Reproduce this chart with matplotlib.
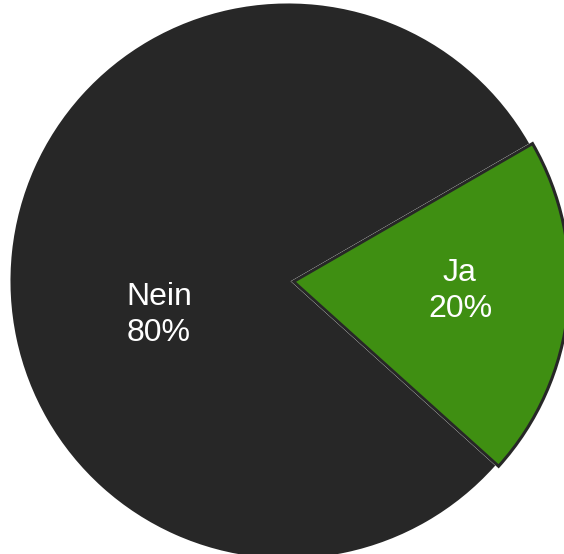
import matplotlib
matplotlib.use("Agg")
import matplotlib.pyplot as plt

# Survey answer shares
labels = ["Ja", "Nein"]
shares = [20, 80]
colors = ["#3f8f12", "#272727"]
explode = [0.02, 0.0]

# Label anchor points (in pie-radius units)
label_pos = [(0.623, -0.036), (-0.467, -0.122)]

W, H, DPI = 564, 554, 100
fig = plt.figure(figsize=(W / DPI, H / DPI), dpi=DPI)

# Pie circle: centre (288, 281) px, radius 276 px
cx, cy, r = 288, 281, 276
ax = fig.add_axes([(cx - r) / W, (H - cy - r) / H, 2 * r / W, 2 * r / H])

wedges, _ = ax.pie(
    shares,
    colors=colors,
    explode=explode,
    startangle=-42,
    counterclock=True,
    wedgeprops=dict(edgecolor="#272727", linewidth=2.2, joinstyle="miter"),
)
ax.set_xlim(-1, 1)
ax.set_ylim(-1, 1)
ax.set_aspect("equal")
ax.axis("off")

for lab, val, (x, y) in zip(labels, shares, label_pos):
    ax.text(x, y, f"{lab}\n{val}%", ha="center", va="center",
            color="white", fontsize=23, family="Liberation Sans",
            linespacing=1.25)

fig.savefig("out.png", dpi=DPI)
